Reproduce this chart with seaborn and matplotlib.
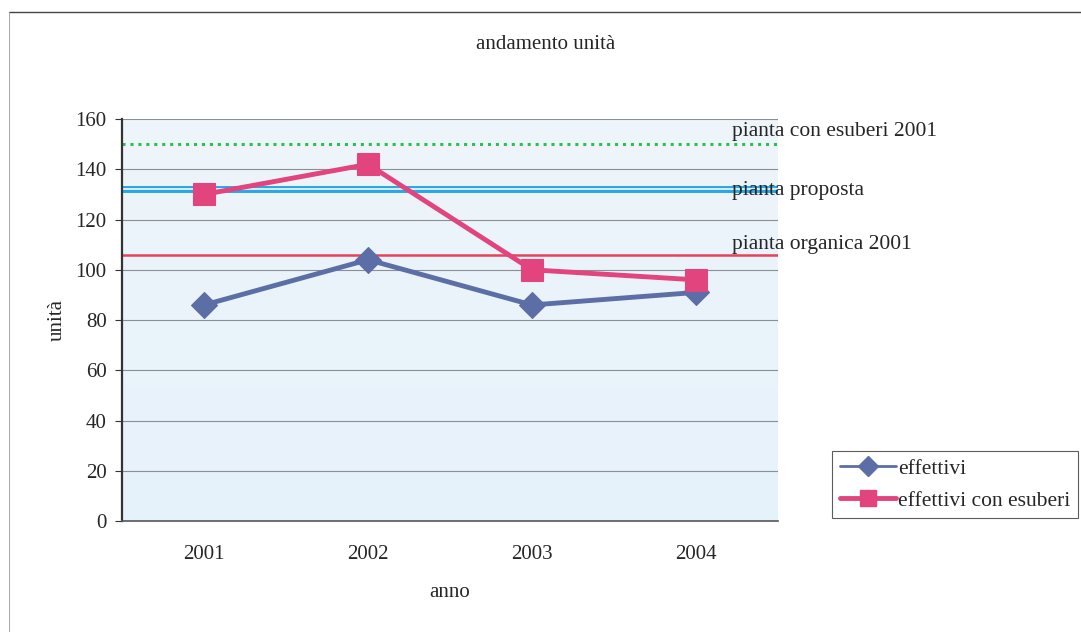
import pandas as pd
import matplotlib.pyplot as plt
import seaborn as sns
import numpy as np
from matplotlib.lines import Line2D
from matplotlib.colors import LinearSegmentedColormap

# Data
anni = ['2001', '2002', '2003', '2004']
effettivi = [86, 104, 86, 91]
effettivi_esuberi = [130, 142, 100, 96]

pianta_esuberi_2001 = 150
pianta_proposta = 132
pianta_organica_2001 = 106

df = pd.DataFrame({
    'anno': anni * 2,
    'unita': effettivi + effettivi_esuberi,
    'serie': ['effettivi'] * 4 + ['effettivi con esuberi'] * 4,
})
df['pos'] = df['anno'].map({a: i for i, a in enumerate(anni)})

sns.set_style('white')
plt.rcParams['font.family'] = ['Liberation Serif', 'DejaVu Serif']

fig = plt.figure(figsize=(10.81, 6.32), dpi=100)
ax = fig.add_axes([0.1129, 0.1756, 0.6068, 0.636])

# light blue plot area
ax.imshow(np.linspace(0, 1, 100).reshape(-1, 1), extent=[-0.5, 3.5, 0, 160],
          aspect='auto', cmap=LinearSegmentedColormap.from_list('bg', ['#eef5fb', '#e6f2fa']),
          zorder=0)

for v in range(20, 161, 20):
    ax.axhline(v, color='#8a8f96', lw=0.8, zorder=1)

# reference lines
ax.axhline(pianta_esuberi_2001, color='#2fbf4f', lw=2.2, ls=(0, (1, 1.6)), zorder=2)
ax.axhline(pianta_proposta, color='#2aa7e6', lw=5, zorder=2)
ax.axhline(pianta_proposta, color='#d6eef9', lw=1.4, zorder=2)
ax.axhline(pianta_organica_2001, color='#e8425a', lw=1.8, zorder=2)

palette = {'effettivi': '#5b6ea6', 'effettivi con esuberi': '#e2447e'}
sns.lineplot(data=df, x='pos', y='unita', hue='serie', style='serie',
             markers={'effettivi': 'D', 'effettivi con esuberi': 's'},
             dashes=False, palette=palette, lw=3.5, markersize=13,
             markeredgewidth=0.8, ax=ax, zorder=3, legend=False)
for line, col in zip(ax.get_lines()[-2:], palette.values()):
    line.set_markeredgecolor(col)
ax.get_lines()[-1].set_markersize(16)

ax.set_xlim(-0.5, 3.5)
ax.set_ylim(0, 160)
ax.set_xticks(range(len(anni)))
ax.set_xticklabels(anni)
ax.set_yticks(range(0, 161, 20))
ax.tick_params(axis='x', labelsize=15, length=0, pad=17)
ax.tick_params(axis='y', labelsize=15, length=5, width=0.8, direction='out', color='#333333', pad=6, left=True)
for s in ['top', 'right']:
    ax.spines[s].set_visible(False)
ax.spines['left'].set_color('#333333')
ax.spines['left'].set_linewidth(1.6)
ax.spines['bottom'].set_color('#555555')
ax.spines['bottom'].set_linewidth(1.2)

ax.set_xlabel('anno', fontsize=15, labelpad=14)
ax.set_ylabel('unità', fontsize=15, labelpad=6)
fig.text(0.505, 0.93, 'andamento unità', fontsize=15, ha='center', va='center')

# labels for reference lines
ax.text(3.22, pianta_esuberi_2001 + 5, 'pianta con esuberi 2001', fontsize=15.5, va='center', zorder=4)
ax.text(3.22, pianta_proposta - 0.5, 'pianta proposta', fontsize=15.5, va='center', zorder=4)
ax.text(3.22, pianta_organica_2001 + 4, 'pianta organica 2001', fontsize=15.5, va='center', zorder=4)

# legend
handles = [Line2D([], [], color=palette['effettivi'], marker='D', lw=2, markersize=10),
           Line2D([], [], color=palette['effettivi con esuberi'], marker='s', lw=3.5, markersize=12)]
leg = fig.legend(handles, ['effettivi', 'effettivi con esuberi'], loc='lower left',
                 bbox_to_anchor=(0.77, 0.18), fontsize=15.5, frameon=True, fancybox=False,
                 edgecolor='#333333', handlelength=2.6, handletextpad=0.1, borderpad=0.35,
                 labelspacing=0.55, borderaxespad=0)
leg.get_frame().set_linewidth(0.8)

# outer frame lines of the scanned chart
fig.add_artist(Line2D([0.008, 1.0], [0.981, 0.981], color='#444444', lw=1.0))
fig.add_artist(Line2D([0.008, 0.008], [0.0, 0.981], color='#999999', lw=0.6))

fig.savefig('out.png', dpi=100)
plt.close()
